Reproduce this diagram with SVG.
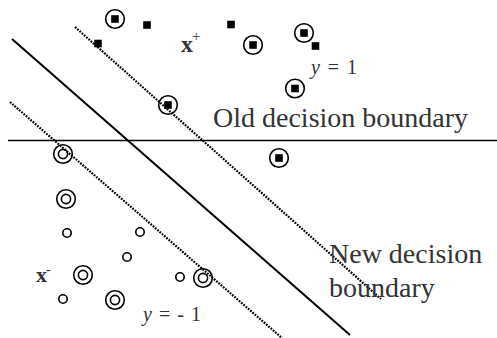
<svg xmlns="http://www.w3.org/2000/svg" width="497" height="338" viewBox="0 0 497 338">
<defs>
<style>
.ring{fill:none;stroke:#000;stroke-width:1.6}
.sq{fill:#000}
.lbl{font-family:"Liberation Serif","Times New Roman",serif;fill:#333}
.solid{stroke:#000;stroke-width:2;fill:none}
.dot{stroke:#000;stroke-width:2.2;stroke-dasharray:1.8 1.2;fill:none}
</style>
<g id="csq"><circle class="ring" r="9.3"/><rect class="sq" x="-3.8" y="-3.8" width="7.6" height="7.6"/></g>
<g id="dc"><circle class="ring" r="9.3"/><circle class="ring" r="4.6"/></g>
<g id="sc"><circle class="ring" r="4.2"/></g>
<rect id="s" class="sq" x="-3.8" y="-3.8" width="7.6" height="7.6"/>
</defs>
<rect width="497" height="338" fill="#fff"/>
<g id="connectors">
<line class="solid" x1="8" y1="140.5" x2="497" y2="140.5" style="stroke-width:1.6"/>
<line class="solid" x1="12" y1="39" x2="350" y2="335"/>
<line class="dot" x1="75" y1="27" x2="381" y2="299"/>
<line class="dot" x1="10" y1="102" x2="282" y2="338"/>
</g>
<g id="positives">
<use href="#csq" x="115" y="19"/>
<use href="#csq" x="253" y="45"/>
<use href="#csq" x="304" y="33"/>
<use href="#csq" x="295" y="88.5"/>
<use href="#csq" x="168" y="105"/>
<use href="#csq" x="279" y="158"/>
<use href="#s" x="98" y="43.5"/>
<use href="#s" x="147" y="25"/>
<use href="#s" x="231" y="24.5"/>
<use href="#s" x="315.5" y="46"/>
</g>
<g id="negatives">
<use href="#dc" x="63" y="154"/>
<use href="#dc" x="66" y="199"/>
<use href="#dc" x="83" y="275"/>
<use href="#dc" x="115" y="300"/>
<use href="#dc" x="203" y="278"/>
<use href="#sc" x="67" y="233"/>
<use href="#sc" x="140" y="232"/>
<use href="#sc" x="127" y="257"/>
<use href="#sc" x="180" y="277"/>
<use href="#sc" x="63" y="299"/>
</g>
<g id="labels">
<text class="lbl" x="181" y="52" font-size="24" font-weight="bold">x</text>
<text class="lbl" x="192" y="41" font-size="15">+</text>
<text class="lbl" x="36" y="282" font-size="22" font-weight="bold">x</text>
<text class="lbl" x="46" y="274" font-size="14">-</text>
<text class="lbl" x="311" y="74" font-size="20" textLength="46" lengthAdjust="spacing"><tspan font-style="italic">y</tspan> = 1</text>
<text class="lbl" x="143" y="321" font-size="20" textLength="58" lengthAdjust="spacing"><tspan font-style="italic">y</tspan> = - 1</text>
<text class="lbl" x="213" y="127" font-size="28">Old decision boundary</text>
<text class="lbl" x="329" y="263" font-size="28">New decision</text>
<text class="lbl" x="329" y="297" font-size="28">boundary</text>
</g>
</svg>
